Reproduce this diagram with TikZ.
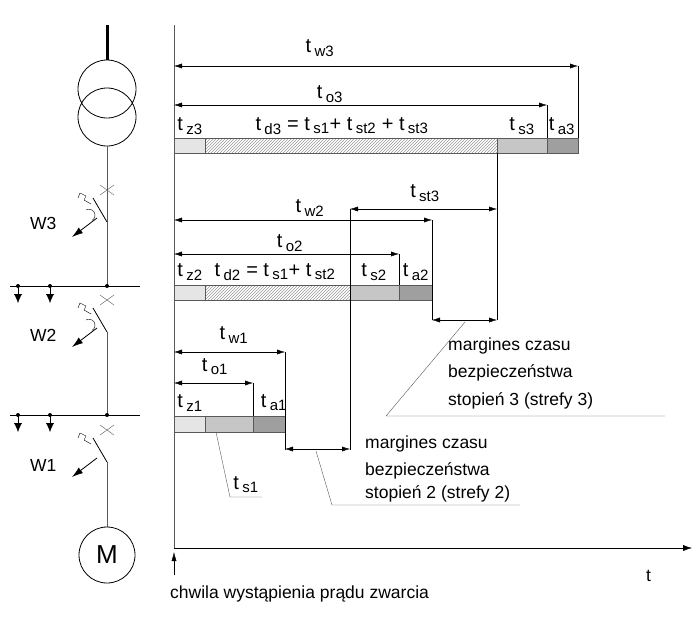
\documentclass[tikz,border=0pt]{standalone}
\usepackage{fontspec}
\setmainfont{Liberation Sans}
\usetikzlibrary{arrows.meta,patterns,positioning}
\tikzset{
  dim/.style={{Latex[length=8pt,width=5pt]}-{Latex[length=8pt,width=5pt]},thin},
  lbl/.style={font=\fontsize{20}{22}\selectfont,inner sep=0pt},
  txt/.style={font=\fontsize{17.5}{20}\selectfont,inner sep=0pt,anchor=west},
  zw/.style={fill=gray!20,draw=gray!70!black,thin},
  sz/.style={fill=gray!45,draw=gray!70!black,thin},
  ak/.style={fill=gray!75,draw=gray!70!black,thin},
  hs/.style={pattern=north east lines,pattern color=gray!80,draw=gray!70!black,thin}
}
\newcommand{\tsub}[1]{t\,\textsubscript{\fontsize{15}{16}\selectfont #1}}
\newcommand{\wylacznik}[2]{%
  \draw[gray!70!black] (100,#1-5)--(114,#1+5) (100,#1+5)--(114,#1-5);
  \draw[thick] (107,#1+32)--(93,#1+8);
  \draw (91,#1+14)--(84,#1+10)--(86,#1+6)--(80,#1+3)--(78,#1+8);
  \ifx#2y\draw (86,#1+20) arc[start angle=120,end angle=-60,radius=6pt];\fi
  \draw[-{Latex[length=11pt,width=7pt]},thick] (97,#1+28)--(72,#1+47);
}
\begin{document}
\begin{tikzpicture}[x=1pt,y=-1pt]
\useasboundingbox (0,0) rectangle (700,616);
% uklad
\draw[line width=3pt] (107,25)--(107,60);
\draw[thick] (107,89) circle[radius=29] (107,117) circle[radius=29];
\draw[gray!70!black] (107,146)--(107,286);
\wylacznik{190}{y}
\node[txt] (w3) at (30,223) {W3};
\draw (10,286)--(140,286);
\wylacznik{300}{y}
\node[txt] (w2) at (30,335) {W2};
\draw[gray!70!black] (107,332)--(107,415);
\draw (10,415)--(140,415);
\wylacznik{430}{n}
\node[txt] (w1) at (30,465) {W1};
\draw[gray!70!black] (107,462)--(107,527);
\node[draw,thick,circle,minimum size=56pt,font=\fontsize{26}{28}\selectfont] (m) at (107,555) {M};
\foreach \y in {286,415}{
  \foreach \x in {18,50}{
    \fill (\x,\y) circle[radius=2];
    \draw[-{Latex[length=9pt,width=8pt]}] (\x,\y)--(\x,\y+17);
  }
  \fill (107,\y) circle[radius=2];
}
% os czasu
\draw[gray!70!black] (174,25)--(174,548);
\draw[-{Latex[length=9pt,width=6pt]}] (174,548)--(692,548);
\draw[-{Latex[length=9pt,width=5pt]}] (174,575)--(174,552);
\node[txt] (t) at (646,576) {t};
\node[txt] (chw) at (170,594) {chwila wystąpienia prądu zwarcia};
% stopien 3
\draw[zw] (174,138) rectangle (205,153);
\draw[hs] (205,138) rectangle (497,153);
\draw[sz] (497,138) rectangle (547,153);
\draw[ak] (547,138) rectangle (578,153);
\draw (547,105)--(547,138) (578,66)--(578,138);
\draw[dim] (174,66)--(578,66);
\draw[dim] (174,105)--(547,105);
\node[lbl] at (320,48) {\tsub{w3}};
\node[lbl] at (330,94) {\tsub{o3}};
\node[lbl] at (190,126) {\tsub{z3}};
\node[lbl] at (342,126) {\tsub{d3} = \tsub{s1}+ \tsub{st2} + \tsub{st3}};
\node[lbl] at (522,126) {\tsub{s3}};
\node[lbl] at (562,126) {\tsub{a3}};
% stopien 2
\draw[zw] (174,285) rectangle (205,300);
\draw[hs] (205,285) rectangle (350,300);
\draw[sz] (350,285) rectangle (399,300);
\draw[ak] (399,285) rectangle (432,300);
\draw (497,153)--(497,320) (432,220)--(432,320) (399,254)--(399,285) (350,209)--(350,450);
\draw[dim] (350,209)--(497,209);
\draw[dim] (174,220)--(432,220);
\draw[dim] (174,254)--(399,254);
\draw[dim] (432,320)--(497,320);
\node[lbl] at (425,193) {\tsub{st3}};
\node[lbl] at (310,208) {\tsub{w2}};
\node[lbl] at (290,243) {\tsub{o2}};
\node[lbl] at (190,272) {\tsub{z2}};
\node[lbl] at (275,272) {\tsub{d2} = \tsub{s1}+ \tsub{st2}};
\node[lbl] at (374,272) {\tsub{s2}};
\node[lbl] at (416,272) {\tsub{a2}};
% stopien 1
\draw[zw] (174,416) rectangle (205,432);
\draw[sz] (205,416) rectangle (253,432);
\draw[ak] (253,416) rectangle (285,432);
\draw (253,383)--(253,416) (285,352)--(285,450);
\draw[dim] (174,352)--(285,352);
\draw[dim] (174,383)--(253,383);
\draw[dim] (285,449)--(350,449);
\node[lbl] at (234,335) {\tsub{w1}};
\node[lbl] at (215,367) {\tsub{o1}};
\node[lbl] at (190,403) {\tsub{z1}};
\node[lbl] at (274,403) {\tsub{a1}};
\node[lbl] at (246,485) {\tsub{s1}};
\draw[gray!70!black] (216,432)--(230,497)--(262,497);
% marginesy
\draw[gray!70!black] (316,451)--(332,505)--(520,505);
\node[txt] (m2a) at (365,444) {margines czasu};
\node[txt] (m2b) at (365,471) {bezpieczeństwa};
\node[txt] (m2c) at (365,494) {stopień 2 (strefy 2)};
\draw[gray!70!black] (465,322)--(386,416)--(665,416);
\node[txt] (m3a) at (448,346) {margines czasu};
\node[txt] (m3b) at (448,373) {bezpieczeństwa};
\node[txt] (m3c) at (448,401) {stopień 3 (strefy 3)};
\end{tikzpicture}
\end{document}
